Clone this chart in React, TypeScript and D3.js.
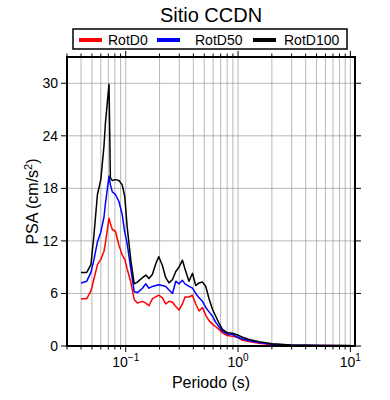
import { useEffect, useRef } from "react";
import * as d3 from "d3";

// periods (s) and pseudo-spectral acceleration (cm/s^2)
const periods = [
  0.040, 0.045, 0.049, 0.052, 0.056, 0.060, 0.064, 0.066, 0.071, 0.073, 0.076,
  0.081, 0.087, 0.093, 0.098, 0.103, 0.111, 0.119, 0.127, 0.141, 0.151, 0.161,
  0.173, 0.185, 0.197, 0.212, 0.227, 0.243, 0.261, 0.279, 0.298, 0.320, 0.337,
  0.366, 0.393, 0.420, 0.450, 0.482, 0.516, 0.552, 0.592, 0.633, 0.677, 0.726,
  0.805, 0.892, 0.988, 1.095, 1.253, 1.538, 2.02, 2.94, 5.45, 10.0
];

const rotD0 = [
  5.4, 5.4, 6.3, 7.6, 9.3, 9.9, 10.8, 11.8, 14.6, 14.0, 13.3,
  13.1, 11.5, 10.4, 9.9, 8.8, 7.3, 5.3, 4.9, 5.1, 4.9, 4.6,
  5.4, 5.6, 5.8, 5.5, 4.8, 5.1, 5.0, 4.5, 4.1, 4.8, 5.6,
  5.6, 5.8, 4.8, 4.0, 4.4, 3.5, 2.9, 2.5, 2.2, 1.9, 1.5,
  1.2, 1.1, 1.0, 0.65, 0.5, 0.3, 0.15, 0.08, 0.05, 0.03
];

const rotD50 = [
  7.2, 7.4, 8.4, 9.8, 11.9, 13.0, 14.7, 16.3, 19.4, 18.4, 17.6,
  17.3, 16.5, 15.0, 13.0, 11.7, 8.8, 6.2, 6.1, 6.6, 7.1, 6.6,
  6.8, 6.9, 7.0, 6.9, 6.8, 6.4, 6.0, 7.4, 7.1, 7.5, 7.1,
  6.8, 6.6, 6.0, 5.5, 5.1, 4.4, 3.9, 3.4, 2.7, 2.2, 1.7,
  1.35, 1.3, 1.0, 0.8, 0.6, 0.4, 0.2, 0.1, 0.06, 0.04
];

const rotD100 = [
  8.4, 8.4, 9.3, 12.5, 17.3, 19.0, 22.8, 25.5, 29.9, 19.2, 18.9,
  19.0, 18.9, 18.4, 17.1, 13.6, 9.8, 7.1, 7.3, 7.8, 8.1, 7.7,
  8.2, 9.4, 10.2, 9.2, 7.8, 7.2, 7.6, 8.5, 9.0, 9.8, 8.8,
  7.4, 8.3, 6.9, 7.2, 7.3, 6.8, 5.4, 4.2, 3.4, 2.6, 1.9,
  1.5, 1.45, 1.25, 1.0, 0.75, 0.5, 0.25, 0.12, 0.07, 0.05
];

const seriesNames = ["RotD0", "RotD50", "RotD100"];
const seriesColors = ["#ff0000", "#0000ff", "#000000"];
const yTicks = [0, 6, 12, 18, 24, 30];
const xMajor = [0.1, 1, 10];
const xMajorExp = ["\u22121", "0", "1"];

const W = 390, H = 400;
const m = { l: 67, r: 35, t: 57, b: 54 };
const FONT = "'Liberation Sans', Arial, Helvetica, sans-serif";

export default function App() {
  const ref = useRef<SVGSVGElement | null>(null);

  useEffect(() => {
    const svg = d3.select(ref.current);
    svg.selectAll("*").remove();

    const x = d3.scaleLog().domain([0.03, 11]).range([m.l, W - m.r]);
    const y = d3.scaleLinear().domain([0, 33]).range([H - m.b, m.t]);
    const x0 = m.l, x1 = W - m.r, y0 = H - m.b, y1 = m.t;

    // minor + major period lines
    const minor: number[] = [];
    for (const dec of [0.01, 0.1, 1]) {
      for (let k = 1; k <= 9; k++) {
        const v = dec * k;
        if (v >= 0.03 && v <= 11) minor.push(v);
      }
    }
    minor.push(10);

    const grid = svg.append("g").attr("stroke", "#9a9a9a").attr("stroke-width", 0.7);
    grid.selectAll("line.vx")
      .data(minor.filter(v => x(v) > x0 + 1 && x(v) < x1 - 1))
      .enter().append("line")
      .attr("x1", d => x(d)).attr("x2", d => x(d))
      .attr("y1", y0).attr("y2", y1);
    grid.selectAll("line.hy")
      .data(yTicks.filter(v => v > 0))
      .enter().append("line")
      .attr("x1", x0).attr("x2", x1)
      .attr("y1", d => y(d)).attr("y2", d => y(d));

    // curves
    const line = d3.line<number>()
      .x((_, i) => x(periods[i]))
      .y(d => y(d));
    [rotD0, rotD50, rotD100].forEach((vals, i) => {
      svg.append("path")
        .datum(vals)
        .attr("d", line)
        .attr("fill", "none")
        .attr("stroke", seriesColors[i])
        .attr("stroke-width", 1.5)
        .attr("stroke-linejoin", "round");
    });

    // ticks
    const ticks = svg.append("g").attr("stroke", "#000").attr("stroke-width", 1);
    minor.forEach(v => {
      const len = xMajor.includes(v) ? 6 : 3.5;
      ticks.append("line").attr("x1", x(v)).attr("x2", x(v)).attr("y1", y0).attr("y2", y0 + len);
      ticks.append("line").attr("x1", x(v)).attr("x2", x(v)).attr("y1", y1).attr("y2", y1 - len);
    });
    yTicks.forEach(v => {
      ticks.append("line").attr("x1", x0 - 6).attr("x2", x0).attr("y1", y(v)).attr("y2", y(v));
      ticks.append("line").attr("x1", x1).attr("x2", x1 + 6).attr("y1", y(v)).attr("y2", y(v));
    });

    // frame
    svg.append("rect")
      .attr("x", x0).attr("y", y1)
      .attr("width", x1 - x0).attr("height", y0 - y1)
      .attr("fill", "none").attr("stroke", "#000").attr("stroke-width", 2);

    // y tick labels
    svg.append("g").selectAll("text")
      .data(yTicks).enter().append("text")
      .attr("x", x0 - 9).attr("y", d => y(d)).attr("dy", "0.36em")
      .attr("text-anchor", "end")
      .attr("font-family", FONT).attr("font-size", 14)
      .text(d => String(d));

    // x tick labels 10^n
    xMajor.forEach((v, i) => {
      const t = svg.append("text")
        .attr("x", x(v)).attr("y", y0 + 21)
        .attr("text-anchor", "middle")
        .attr("font-family", FONT).attr("font-size", 14);
      t.append("tspan").text("10");
      t.append("tspan").attr("dy", -6).attr("font-size", 10).text(xMajorExp[i]);
    });

    // axis labels
    svg.append("text")
      .attr("x", (x0 + x1) / 2).attr("y", y0 + 42)
      .attr("text-anchor", "middle")
      .attr("font-family", FONT).attr("font-size", 16)
      .text("Periodo (s)");

    const yl = svg.append("text")
      .attr("transform", `translate(38,${(y0 + y1) / 2}) rotate(-90)`)
      .attr("text-anchor", "middle")
      .attr("font-family", FONT).attr("font-size", 16);
    yl.append("tspan").text("PSA (cm/s");
    yl.append("tspan").attr("dy", -6).attr("font-size", 11).text("2");
    yl.append("tspan").attr("dy", 6).text(")");

    // title
    svg.append("text")
      .attr("x", (x0 + x1) / 2).attr("y", 22)
      .attr("text-anchor", "middle")
      .attr("font-family", FONT).attr("font-size", 20)
      .text("Sitio CCDN");

    // legend
    svg.append("rect")
      .attr("x", 73).attr("y", 29).attr("width", 274).attr("height", 20)
      .attr("fill", "#fff").attr("stroke", "#000").attr("stroke-width", 1.5);
    const lx = [79, 157, 253];
    const tx = [108, 195, 284];
    seriesNames.forEach((name, i) => {
      svg.append("line")
        .attr("x1", lx[i]).attr("x2", lx[i] + 23)
        .attr("y1", 40).attr("y2", 40)
        .attr("stroke", seriesColors[i]).attr("stroke-width", 4);
      svg.append("text")
        .attr("x", tx[i]).attr("y", 45)
        .attr("font-family", FONT).attr("font-size", 14)
        .text(name);
    });
  }, []);

  return (
    <svg
      ref={ref}
      width={W}
      height={H}
      style={{ position: "absolute", left: 0, top: 0, background: "#fff" }}
    />
  );
}
